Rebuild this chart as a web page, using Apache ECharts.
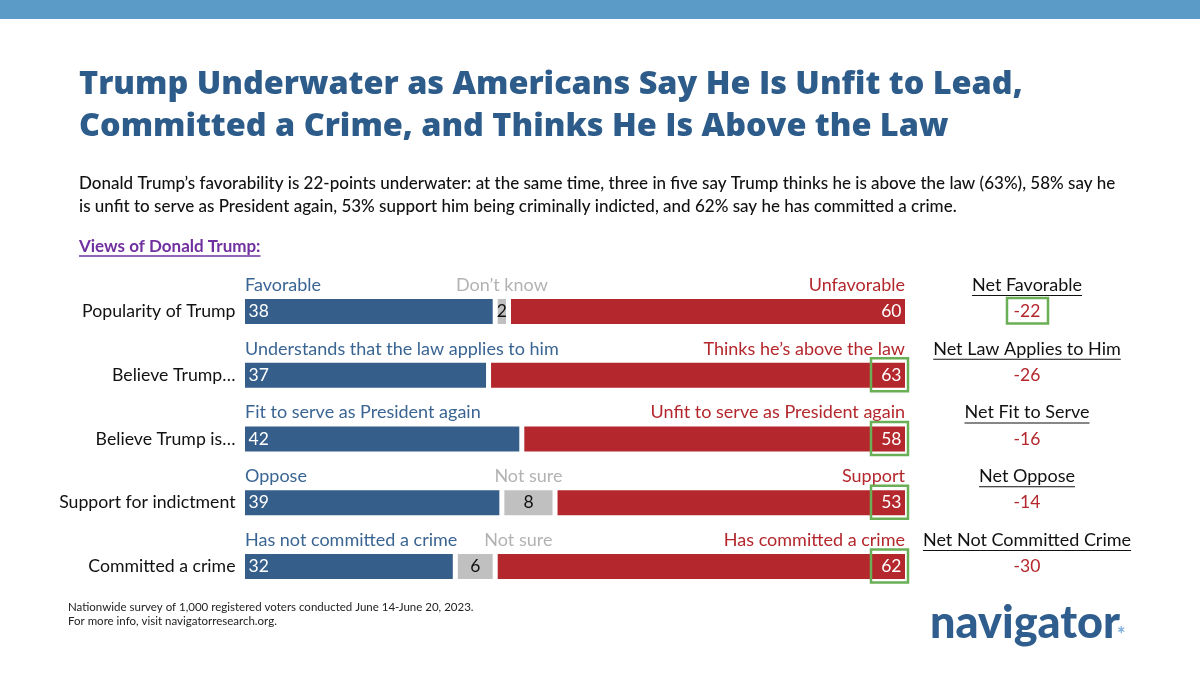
<!DOCTYPE html>
<html>
<head>
<meta charset="utf-8">
<title>Views of Donald Trump</title>
<script src="https://cdn.jsdelivr.net/npm/echarts@6/dist/echarts.min.js"></script>
<style>
  html, body { margin: 0; padding: 0; background: #fff; }
  #chart { width: 1200px; height: 675px; }
</style>
</head>
<body>
<div id="chart"></div>
<script>
// data
var categories = ['Popularity of Trump', 'Believe Trump…', 'Believe Trump is…', 'Support for indictment', 'Committed a crime'];
var negativeValues = [38, 37, 42, 39, 32];
var unsureValues = [2, 0, 0, 8, 6];
var positiveValues = [60, 63, 58, 53, 62];
var negativeLabels = ['Favorable', 'Understands that the law applies to him', 'Fit to serve as President again', 'Oppose', 'Has not committed a crime'];
var unsureLabels = ['Don’t know', '', '', 'Not sure', 'Not sure'];
var positiveLabels = ['Unfavorable', 'Thinks he’s above the law', 'Unfit to serve as President again', 'Support', 'Has committed a crime'];
var netTitles = ['Net Favorable', 'Net Law Applies to Him', 'Net Fit to Serve', 'Net Oppose', 'Net Not Committed Crime'];
var netValues = [-22, -26, -16, -14, -30];
var boxedPositiveRows = [1, 2, 3, 4];
var boxedNetRows = [0];

var FONT = 'Lato, "Noto Sans", sans-serif';
var BLUE = '#355e8b';
var RED = '#b3272d';
var GRAY = '#c0c0c0';
var GREEN = '#6aae55';
var HEAD = 18;

var measureCtx = document.createElement('canvas').getContext('2d');
function textWidth(str, size, weight) {
    measureCtx.font = (weight || 'normal') + ' ' + size + 'px ' + FONT;
    return measureCtx.measureText(str).width;
}

function txt(x, y, str, color, align, size) {
    return {
        type: 'text',
        style: {
            x: x, y: y, text: str, fill: color,
            fontSize: size || HEAD, fontFamily: FONT,
            align: align, verticalAlign: 'middle'
        }
    };
}

var myChart = echarts.init(document.getElementById('chart'));

var option = {
    animation: false,
    backgroundColor: '#fff',
    title: [{
        text: 'Trump Underwater as Americans Say He Is Unfit to Lead,\nCommitted a Crime, and Thinks He Is Above the Law',
        left: 79, top: 64, padding: 0,
        textStyle: { fontFamily: '"Open Sans", Lato, sans-serif', fontSize: 32.4, fontWeight: 800, color: '#2d5c8b', lineHeight: 42 }
    }, {
        text: 'Donald Trump’s favorability is 22-points underwater: at the same time, three in five say Trump thinks he is above the law (63%), 58% say he\nis unfit to serve as President again, 53% support him being criminally indicted, and 62% say he has committed a crime.',
        left: 79, top: 172, padding: 0,
        textStyle: { fontFamily: FONT, fontSize: 17, fontWeight: 500, color: '#111', lineHeight: 23 }
    }, {
        text: 'Views of Donald Trump:',
        left: 79, top: 237, padding: 0,
        textStyle: { fontFamily: FONT, fontSize: 17, fontWeight: 'bold', color: '#7030a0', lineHeight: 20 }
    }, {
        text: 'Nationwide survey of 1,000 registered voters conducted June 14-June 20, 2023.\nFor more info, visit navigatorresearch.org.',
        left: 68, top: 600, padding: 0,
        textStyle: { fontFamily: FONT, fontSize: 11.5, fontWeight: 'normal', color: '#222', lineHeight: 14 }
    }],
    graphic: [
        { type: 'rect', shape: { x: 0, y: 0, width: 1200, height: 19 }, style: { fill: '#5b9bc8' } },
        { type: 'line', shape: { x1: 79, y1: 256, x2: 79 + textWidth('Views of Donald Trump:', 17, 'bold'), y2: 256 },
          style: { stroke: '#7030a0', lineWidth: 1.5 } },
        { type: 'text', style: { x: 930, y: 623, text: 'navigator', fill: '#2f5e8e', fontSize: 45, fontWeight: 900, fontFamily: FONT, verticalAlign: 'middle' } },
        { type: 'text', style: { x: 1117, y: 636, text: '*', fill: '#7eaee0', fontSize: 20, fontWeight: 'bold', fontFamily: FONT, verticalAlign: 'middle' } }
    ],
    grid: { left: 242.5, width: 665, top: 279.6, height: 318.75 },
    xAxis: { type: 'value', min: 0, max: 100, show: false },
    yAxis: {
        type: 'category', data: categories, inverse: true,
        axisLine: { show: false }, axisTick: { show: false },
        axisLabel: { margin: 7, fontFamily: FONT, fontSize: 17.7, color: '#111' }
    },
    series: [{
        name: 'negative', type: 'bar', stack: 'all', data: negativeValues, barWidth: 30,
        itemStyle: { color: BLUE, borderColor: '#fff', borderWidth: 2.5 },
        label: { show: true, position: 'insideLeft', distance: 6, color: '#fff', fontFamily: FONT, fontSize: 17.5 }
    }, {
        name: 'unsure', type: 'bar', stack: 'all', data: unsureValues, barWidth: 30,
        itemStyle: { color: GRAY, borderColor: '#fff', borderWidth: 2.5 },
        label: {
            show: true, position: 'inside', color: '#111', fontFamily: FONT, fontSize: 17.5,
            formatter: function (p) { return p.value ? p.value : ''; }
        }
    }, {
        name: 'positive', type: 'bar', stack: 'all', data: positiveValues, barWidth: 30,
        itemStyle: { color: RED, borderColor: '#fff', borderWidth: 2.5 },
        label: { show: true, position: 'insideRight', distance: 6, color: '#fff', fontFamily: FONT, fontSize: 17.5 }
    }, {
        name: 'annotations', type: 'custom', z: 10, silent: true,
        data: categories.map(function (c, i) { return [0, i]; }),
        renderItem: function (params, api) {
            var row = api.value(1);
            var left = api.coord([0, row]);
            var right = api.coord([100, row]);
            var cy = left[1];
            var hy = cy - 26.5;
            var x0 = left[0] + 2.5;
            var x1 = right[0] - 2.5;
            var children = [];
            children.push(txt(x0, hy, negativeLabels[row], '#3a6593', 'left'));
            children.push(txt(x1, hy, positiveLabels[row], RED, 'right'));
            if (unsureLabels[row]) {
                var gc = api.coord([negativeValues[row] + unsureValues[row] / 2, row])[0];
                var minC = x0 + textWidth(negativeLabels[row], HEAD) + 27 + textWidth(unsureLabels[row], HEAD) / 2;
                children.push(txt(Math.max(gc, minC), hy, unsureLabels[row], '#b3b3b3', 'center'));
            }
            if (boxedPositiveRows.indexOf(row) >= 0) {
                children.push({ type: 'rect', shape: { x: x1 - 34, y: cy - 17, width: 37, height: 33 },
                    style: { fill: 'none', stroke: GREEN, lineWidth: 2.5 } });
            }
            // net column
            var nx = 1027;
            var nw = textWidth(netTitles[row], HEAD);
            children.push(txt(nx, hy, netTitles[row], '#111', 'center'));
            children.push({ type: 'line', shape: { x1: nx - nw / 2, y1: hy + 10.5, x2: nx + nw / 2, y2: hy + 10.5 },
                style: { stroke: '#111', lineWidth: 1.2 } });
            children.push(txt(nx, cy, String(netValues[row]), RED, 'center', 17.5));
            if (boxedNetRows.indexOf(row) >= 0) {
                children.push({ type: 'rect', shape: { x: nx - 20, y: cy - 13.5, width: 41, height: 25.5 },
                    style: { fill: 'none', stroke: GREEN, lineWidth: 2.5 } });
            }
            return { type: 'group', children: children };
        }
    }]
};

myChart.setOption(option);
</script>
</body>
</html>
